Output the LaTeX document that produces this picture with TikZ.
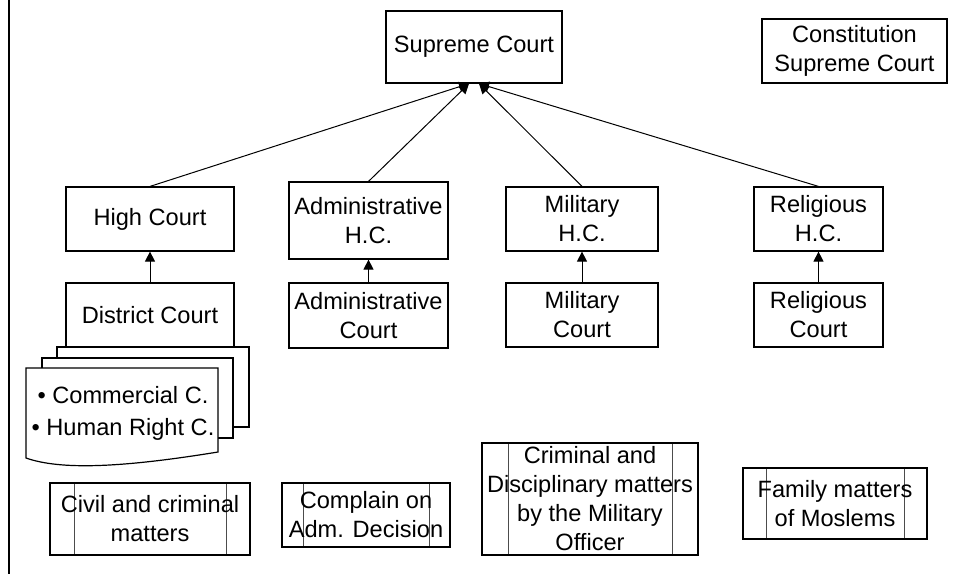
\documentclass[tikz,border=0pt]{standalone}
\usepackage{fontspec}
\setmainfont{Liberation Sans}
\usepackage{tikz}
\usetikzlibrary{arrows.meta}

\begin{document}
\begin{tikzpicture}[
  x=0.5pt,y=-0.5pt,
  font=\fontsize{11.8}{14.5}\selectfont,
  court/.style={draw=black,line width=0.6pt,fill=white,align=center,inner sep=0pt},
  matter/.style={court,path picture={
      \draw[black!70,line width=0.5pt] ([xshift=#1]path picture bounding box.north west) -- ([xshift=#1]path picture bounding box.south west);
      \draw[black!70,line width=0.5pt] ([xshift=-#1]path picture bounding box.north east) -- ([xshift=-#1]path picture bounding box.south east);}},
  matter/.default=11.5pt,
  page/.style={draw=black,line width=0.6pt,fill=white},
  arr/.style={-{Triangle[length=5pt,width=5pt]},line width=0.5pt,draw=black}
]
\useasboundingbox (0,0) rectangle (958,574);
\draw[line width=1.4pt] (9,0) -- (9,574);

\node[court,minimum width=88pt,minimum height=36pt] (supreme) at (474,47) {Supreme Court};
\node[court,minimum width=92.5pt,minimum height=32pt] (constitution) at (854.5,51) {Constitution\\Supreme Court};

\node[court,minimum width=84pt,minimum height=32pt] (high) at (150,219) {High Court};
\node[court,minimum width=79.5pt,minimum height=38.5pt] (admhc) at (368.5,220.5) {Administrative\\H.C.};
\node[court,minimum width=76pt,minimum height=32pt] (milhc) at (582,219) {Military\\H.C.};
\node[court,minimum width=64.5pt,minimum height=32pt] (relhc) at (818.5,219) {Religious\\H.C.};

\draw[page] (57,347) rectangle (249,427);
\draw[page] (42,358) rectangle (233,438);
\draw[page] (26,368) -- (218,368) -- (218,452) .. controls (120,468) and (60,470) .. (26,458) -- cycle;
\node[align=center,font=\fontsize{11.8}{16}\selectfont] (special) at (123,413) {• Commercial C.\\• Human Right C.};

\node[court,minimum width=84pt,minimum height=32pt] (district) at (150,315) {District Court};
\node[court,minimum width=79.5pt,minimum height=32.5pt] (admcourt) at (368.5,315.5) {Administrative\\Court};
\node[court,minimum width=76pt,minimum height=32pt] (milcourt) at (582,315) {Military\\Court};
\node[court,minimum width=64.5pt,minimum height=32pt] (relcourt) at (818.5,315) {Religious\\Court};

\node[matter=12pt,minimum width=100pt,minimum height=36pt] (civil) at (150,519) {Civil and criminal\\matters};
\node[matter=10.5pt,minimum width=84pt,minimum height=32pt] (complain) at (366,515) {Complain on\\Adm. Decision};
\node[matter=13pt,minimum width=108pt,minimum height=56pt] (disciplinary) at (590,499) {Criminal and\\Disciplinary matters\\by the Military\\Officer};
\node[matter=11.5pt,minimum width=92pt,minimum height=35.5pt] (family) at (835,503.5) {Family matters\\of Moslems};

\draw[arr] (district.north) -- (high.south);
\draw[arr] (admcourt.north) -- (admhc.south);
\draw[arr] (milcourt.north) -- (milhc.south);
\draw[arr] (relcourt.north) -- (relhc.south);
\draw[arr] (high.north) -- ([xshift=-2.5pt]supreme.south);
\draw[arr] (admhc.north) -- ([xshift=-2.5pt]supreme.south);
\draw[arr] (milhc.north) -- ([xshift=2.5pt]supreme.south);
\draw[arr] (relhc.north) -- ([xshift=2.5pt]supreme.south);
\end{tikzpicture}
\end{document}
